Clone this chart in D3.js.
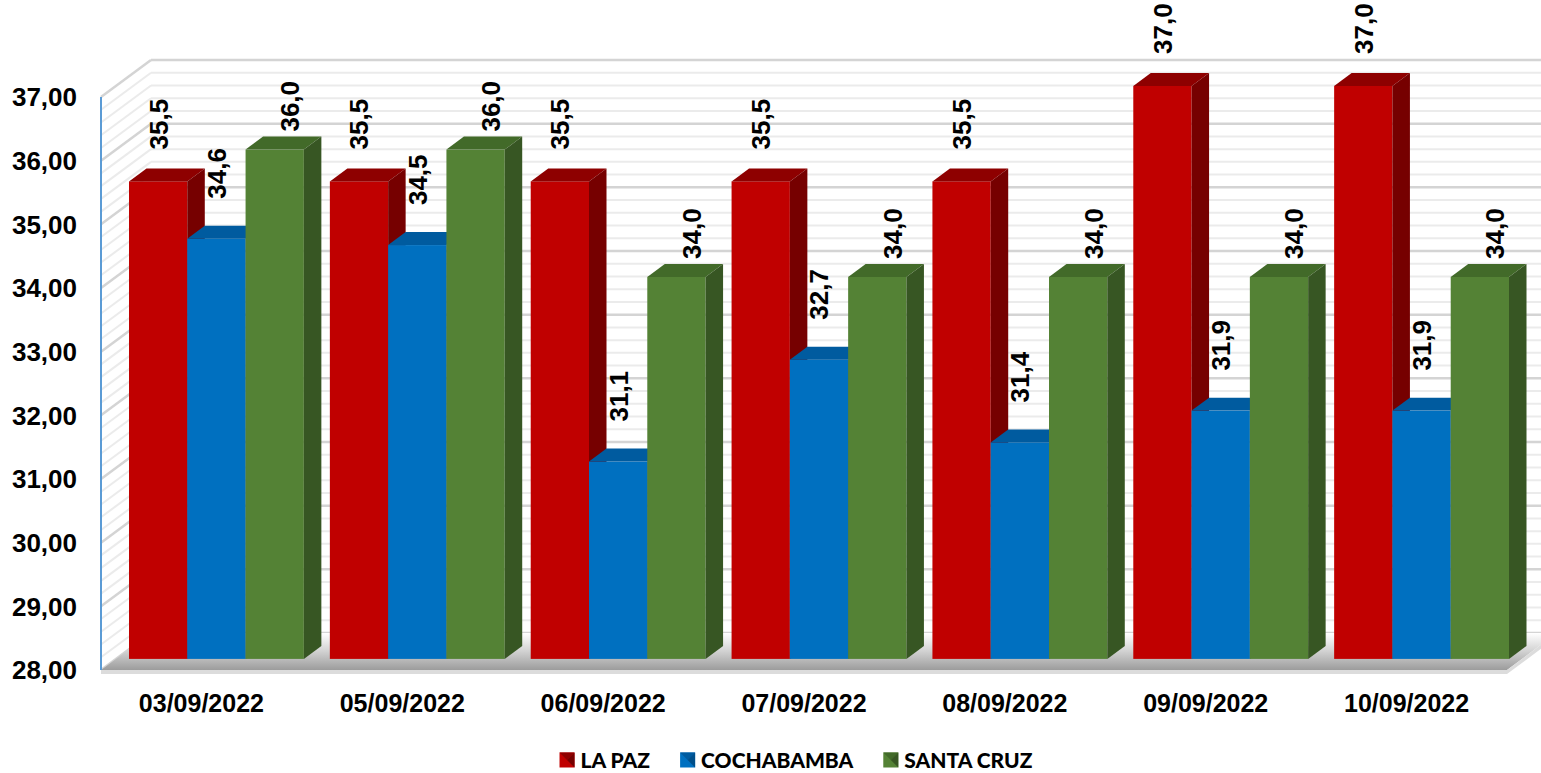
<!DOCTYPE html>
<html lang="es">
  <head>
    <meta charset="UTF-8" />
    <script src="https://d3js.org/d3.v7.min.js"></script>
    <title>Precios por departamento</title>
    <style type="text/css">
      body { margin: 0; background: #fff; }
      text { font-family: 'Liberation Sans', Arial, sans-serif; font-weight: bold; fill: #000; }
      .legend text { font-family: Lato, 'Open Sans', sans-serif; font-weight: 900; }
    </style>
  </head>
  <body>
    <svg width="1541" height="773"></svg>
  </body>
  <script type="text/javascript">
    // data
    const dates = ['03/09/2022', '05/09/2022', '06/09/2022', '07/09/2022', '08/09/2022', '09/09/2022', '10/09/2022'];
    const laPaz = [35.5, 35.5, 35.5, 35.5, 35.5, 37.0, 37.0];
    const cochabamba = [34.6, 34.5, 31.1, 32.7, 31.4, 31.9, 31.9];
    const santaCruz = [36.0, 36.0, 34.0, 34.0, 34.0, 34.0, 34.0];
    const seriesNames = ['LA PAZ', 'COCHABAMBA', 'SANTA CRUZ'];
    const yTicks = [28, 29, 30, 31, 32, 33, 34, 35, 36, 37];

    const seriesValues = [laPaz, cochabamba, santaCruz];

    // colours: front, top, side
    const colors = [
      { front: '#c00000', top: '#8e0000', side: '#760000' },
      { front: '#0070c0', top: '#005b9f', side: '#004f8a' },
      { front: '#548235', top: '#426a29', side: '#375623' }
    ];
    // label offsets per series (Excel 3D placement)
    const labelShift = [
      { dx: 0, gap: 32 },
      { dx: 0, gap: 40 },
      { dx: 15, gap: 18 }
    ];

    const svg = d3.select('svg');

    const comma = d3.formatLocale({ decimal: ',', thousands: '.', grouping: [3], currency: ['', ''] });
    const fmt2 = comma.format('.2f');
    const fmt1 = comma.format('.1f');

    // 3D geometry
    const plotLeft = 101, plotRight = 1507, plotBottom = 670, plotTop = 97;
    const depth = { x: 50, y: -37 };
    const f1 = 0.3, f2 = 0.65;

    const yScale = d3.scaleLinear().domain([28, 37]).range([plotBottom, plotTop]);
    const xScale = d3.scaleBand().domain(dates).range([plotLeft, plotRight]);
    const groupPad = 13;
    const xSeries = d3
      .scaleBand()
      .domain(seriesNames)
      .range([groupPad, xScale.bandwidth() - groupPad]);

    const defs = svg.append('defs');
    const floorGrad = defs
      .append('linearGradient')
      .attr('id', 'floorGrad')
      .attr('x1', 0).attr('y1', 0).attr('x2', 0).attr('y2', 1);
    floorGrad.append('stop').attr('offset', '0%').attr('stop-color', '#ffffff');
    floorGrad.append('stop').attr('offset', '45%').attr('stop-color', '#d6d6d6');
    floorGrad.append('stop').attr('offset', '100%').attr('stop-color', '#9c9c9c');

    // walls / gridlines
    const walls = svg.append('g');
    const minor = d3.range(0, 46).map((i) => 28 + i * 0.2);
    const isMajor = (v) => Math.abs(v - Math.round(v)) < 1e-6;

    walls
      .selectAll('.back')
      .data(minor)
      .join('line')
      .attr('x1', plotLeft + depth.x)
      .attr('x2', plotRight + depth.x + 20)
      .attr('y1', (d) => yScale(d) + depth.y)
      .attr('y2', (d) => yScale(d) + depth.y)
      .attr('stroke', (d) => (isMajor(d) ? '#d4d4d4' : '#ebebeb'))
      .attr('stroke-width', (d) => (isMajor(d) ? 2.5 : 2));

    walls
      .append('g')
      .selectAll('line')
      .data(minor)
      .join('line')
      .attr('x1', plotLeft)
      .attr('x2', plotLeft + depth.x)
      .attr('y1', (d) => yScale(d))
      .attr('y2', (d) => yScale(d) + depth.y)
      .attr('stroke', (d) => (isMajor(d) ? '#d4d4d4' : '#ebebeb'))
      .attr('stroke-width', (d) => (isMajor(d) ? 2.5 : 2));

    // floor
    svg
      .append('polygon')
      .attr('points', [
        [plotLeft, plotBottom],
        [plotRight, plotBottom],
        [plotRight + depth.x, plotBottom + depth.y],
        [plotLeft + depth.x, plotBottom + depth.y]
      ].join(' '))
      .attr('fill', 'url(#floorGrad)');
    svg
      .append('polygon')
      .attr('points', [
        [plotLeft, plotBottom],
        [plotRight, plotBottom],
        [plotRight + depth.x, plotBottom + depth.y],
        [plotRight + depth.x, plotBottom + depth.y + 4],
        [plotRight, plotBottom + 4],
        [plotLeft, plotBottom + 4]
      ].join(' '))
      .attr('fill', '#dcdcdc');

    // front value axis line
    svg
      .append('line')
      .attr('x1', plotLeft).attr('x2', plotLeft)
      .attr('y1', yScale(37)).attr('y2', plotBottom)
      .attr('stroke', '#5b9bd5')
      .attr('stroke-width', 2);

    // bars
    const barData = [];
    dates.forEach((date, i) => {
      seriesValues.forEach((vals, s) => {
        barData.push({ date, s, value: vals[i] });
      });
    });

    const bx = depth.x * (f2 - f1), by = depth.y * (f2 - f1);
    const bars = svg.append('g');
    const barG = bars
      .selectAll('.bar')
      .data(barData)
      .join('g')
      .attr('class', 'bar');

    const geom = (d) => {
      const x0 = xScale(d.date) + depth.x * f1 + xSeries(seriesNames[d.s]);
      const w = xSeries.bandwidth();
      const yt = yScale(d.value) + depth.y * f1;
      const yb = yScale(28) + depth.y * f1;
      return { x0, w, yt, yb };
    };

    barG
      .append('rect')
      .attr('x', (d) => geom(d).x0)
      .attr('y', (d) => geom(d).yt)
      .attr('width', xSeries.bandwidth())
      .attr('height', (d) => geom(d).yb - geom(d).yt)
      .attr('fill', (d) => colors[d.s].front);

    barG
      .append('polygon')
      .attr('points', (d) => {
        const g = geom(d);
        return [
          [g.x0, g.yt],
          [g.x0 + g.w, g.yt],
          [g.x0 + g.w + bx, g.yt + by],
          [g.x0 + bx, g.yt + by]
        ].join(' ');
      })
      .attr('fill', (d) => colors[d.s].top);

    barG
      .append('polygon')
      .attr('points', (d) => {
        const g = geom(d);
        return [
          [g.x0 + g.w, g.yt],
          [g.x0 + g.w + bx, g.yt + by],
          [g.x0 + g.w + bx, g.yb + by],
          [g.x0 + g.w, g.yb]
        ].join(' ');
      })
      .attr('fill', (d) => colors[d.s].side);

    // data labels
    svg
      .append('g')
      .selectAll('text')
      .data(barData)
      .join('text')
      .attr('transform', (d) => {
        const g = geom(d);
        const x = g.x0 + g.w / 2 + labelShift[d.s].dx;
        const y = g.yt - labelShift[d.s].gap;
        return `translate(${x},${y}) rotate(-90)`;
      })
      .attr('dy', '0.36em')
      .attr('font-size', '26px')
      .text((d) => fmt1(d.value));

    // y tick labels
    svg
      .append('g')
      .selectAll('text')
      .data(yTicks)
      .join('text')
      .attr('x', 77)
      .attr('y', (d) => yScale(d))
      .attr('dy', '0.36em')
      .attr('text-anchor', 'end')
      .attr('font-size', '26px')
      .text((d) => fmt2(d));

    // category labels
    svg
      .append('g')
      .selectAll('text')
      .data(dates)
      .join('text')
      .attr('x', (d) => xScale(d) + xScale.bandwidth() / 2)
      .attr('y', 712)
      .attr('text-anchor', 'middle')
      .attr('font-size', '25px')
      .text((d) => d);

    // legend
    const legend = svg.append('g').attr('class', 'legend');
    const items = legend
      .selectAll('g')
      .data(seriesNames)
      .join('g');
    items
      .append('text')
      .attr('x', 21)
      .attr('y', 0)
      .attr('dy', '0.36em')
      .attr('font-size', '21px')
      .text((d) => d);
    const mk = 15;
    items
      .append('rect')
      .attr('x', 0).attr('y', -mk / 2)
      .attr('width', mk).attr('height', mk)
      .attr('fill', (d, i) => colors[i].front);
    items
      .append('polygon')
      .attr('points', `0,${-mk / 2} ${mk},${-mk / 2} ${mk / 2},0`)
      .attr('fill', (d, i) => colors[i].top);
    items
      .append('polygon')
      .attr('points', `${mk},${-mk / 2} ${mk},${mk / 2} ${mk / 2},0`)
      .attr('fill', (d, i) => colors[i].side);

    const gapItems = 30;
    const widths = [];
    items.each(function () {
      widths.push(21 + d3.select(this).select('text').node().getComputedTextLength());
    });
    const total = d3.sum(widths) + gapItems * (widths.length - 1);
    let cx = 796 - total / 2;
    items.attr('transform', (d, i) => {
      const t = `translate(${cx},760)`;
      cx += widths[i] + gapItems;
      return t;
    });
  </script>
</html>
